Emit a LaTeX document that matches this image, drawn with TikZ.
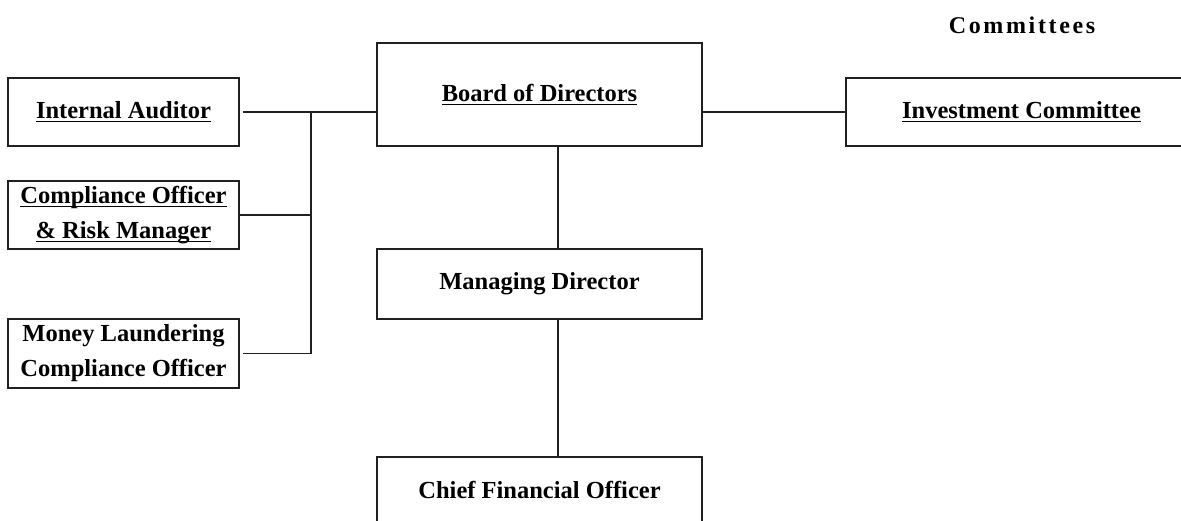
\documentclass[tikz,border=0pt]{standalone}
\usepackage{fontspec}
\setmainfont{Liberation Serif}
\definecolor{linec}{HTML}{202020}
% underline drawn at a fixed distance below the baseline
\newcommand{\undl}[1]{\setbox0\hbox{#1}\rlap{\rule[-3.5pt]{\wd0}{1.3pt}}\box0}
\begin{document}
\begin{tikzpicture}[x=1pt,y=-1pt,
  orgbox/.style={draw=linec, line width=1.8pt, rectangle, inner sep=0pt,
    align=center, font=\fontsize{24.5}{35}\selectfont\bfseries},
  link/.style={draw=linec, line width=1.8pt},
  heading/.style={inner sep=0pt, font=\fontsize{24}{28}\selectfont\bfseries\addfontfeature{LetterSpace=11}}]
\useasboundingbox (0,0) rectangle (1181,520);
\clip (0,0) rectangle (1181,520);

% left column: control functions
\node[orgbox, minimum width=231pt, minimum height=68pt] (ia) at (123.5,112) {\undl{Internal Auditor}};
\node[orgbox, minimum width=231pt, minimum height=68pt] (co) at (123.5,215) {\undl{Compliance Officer}\\\undl{\& Risk Manager}};
\node[orgbox, minimum width=231pt, minimum height=69pt] (ml) at (123.5,353.5) {Money Laundering\\Compliance Officer};

% centre column
\node[orgbox, minimum width=325pt, minimum height=103pt] (board) at (539.5,94.5) {\undl{Board of Directors}};
\node[orgbox, minimum width=325pt, minimum height=70pt] (md) at (539.5,284) {Managing Director};
\node[orgbox, minimum width=325pt, minimum height=66pt] (cfo) at (539.5,490) {Chief Financial Officer};

% committees
\node[heading] (comm) at (1022,25) {Committees};
\node[orgbox, minimum width=351pt, minimum height=68pt] (inv) at (1021.5,112) {\undl{Investment Committee}};

% connectors
\coordinate (bus) at (311,0);
\coordinate (spine) at (558,0);
\draw[link] ([xshift=3pt]ia.east) -- (ia.east -| board.west);
\draw[link] (ia.east -| bus) -- (ml.east -| bus);
\draw[link] (co.east) -- (co.east -| bus);
\draw[link] ([xshift=3pt]ml.east) -- (ml.east -| bus);
\draw[link] (board.east |- inv.west) -- (inv.west);
\draw[link] (board.south -| spine) -- (md.north -| spine);
\draw[link] (md.south -| spine) -- (cfo.north -| spine);
\end{tikzpicture}
\end{document}
